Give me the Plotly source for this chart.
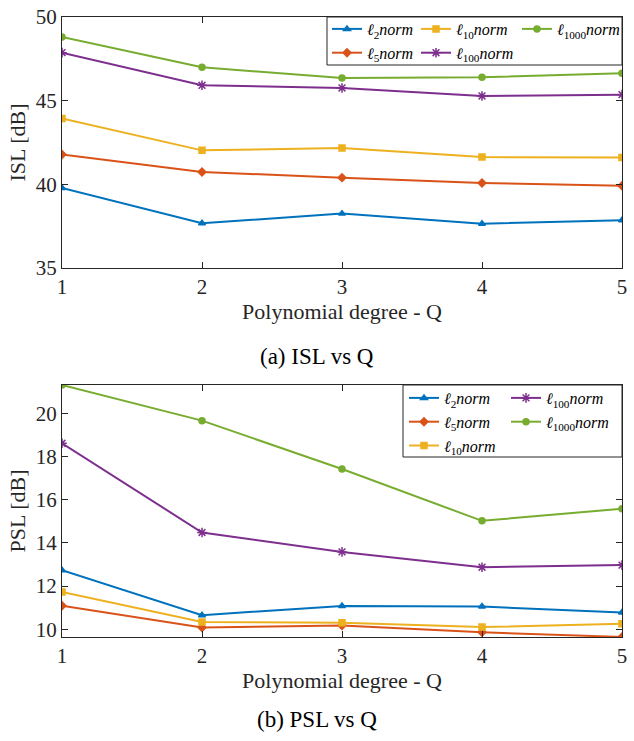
import plotly.graph_objects as go

# Polynomial degree Q
degrees = [1, 2, 3, 4, 5]

# ISL [dB] per norm
isl_l2 = [39.78, 37.67, 38.25, 37.65, 37.85]
isl_l5 = [41.78, 40.74, 40.40, 40.08, 39.92]
isl_l10 = [43.93, 42.03, 42.17, 41.63, 41.60]
isl_l100 = [47.87, 45.92, 45.76, 45.28, 45.36]
isl_l1000 = [48.80, 47.00, 46.35, 46.40, 46.64]

# PSL [dB] per norm
psl_l2 = [12.73, 10.65, 11.08, 11.05, 10.78]
psl_l5 = [11.09, 10.08, 10.17, 9.86, 9.64]
psl_l10 = [11.72, 10.33, 10.30, 10.10, 10.25]
psl_l100 = [18.61, 14.48, 13.58, 12.87, 12.97]
psl_l1000 = [21.31, 19.66, 17.42, 15.02, 15.58]

isl_yticks = [35, 40, 45, 50]
psl_yticks = [10, 12, 14, 16, 18, 20]

FONT = "Liberation Serif, Times New Roman, serif"
AXC = "#262626"
W, H = 634, 741


def lbl(k):
    return f"<i>ℓ</i><sub>{k}</sub><i>norm</i>"


def px(x):
    return x / W


def py(y):
    return 1 - y / H


# name, isl, psl, color, symbol, legend column (top), legend column (bottom)
series = [
    ("2", isl_l2, psl_l2, "#0072BD", "triangle-up", "legend", "legend4"),
    ("5", isl_l5, psl_l5, "#D95319", "diamond", "legend", "legend4"),
    ("10", isl_l10, psl_l10, "#EDB120", "square", "legend2", "legend4"),
    ("100", isl_l100, psl_l100, "#7E2F8E", "asterisk-open", "legend2", "legend5"),
    ("1000", isl_l1000, psl_l1000, "#77AC30", "circle", "legend3", "legend5"),
]

fig = go.Figure()
for k, isl, psl, col, sym, lg_top, lg_bot in series:
    msize = 8 if sym == "asterisk-open" else 6
    mk = dict(symbol=sym, size=msize, color=col, line=dict(color=col, width=1.5))
    fig.add_trace(go.Scatter(
        x=degrees, y=isl, name=lbl(k), mode="lines+markers",
        line=dict(color=col, width=2), marker=mk,
        xaxis="x", yaxis="y", legend=lg_top,
    ))
    fig.add_trace(go.Scatter(
        x=degrees, y=psl, name=lbl(k), mode="lines+markers",
        line=dict(color=col, width=2), marker=mk,
        xaxis="x2", yaxis="y2", legend=lg_bot,
    ))

x0, x1 = px(62), px(622)

axis_common = dict(
    showline=True, linecolor=AXC, linewidth=1, mirror="ticks",
    ticks="inside", ticklen=6, tickcolor=AXC, tickwidth=1,
    showgrid=False, zeroline=False, automargin=False,
    tickfont=dict(family=FONT, size=21, color=AXC),
)
xtitle = dict(text="Polynomial degree - Q", font=dict(family=FONT, size=22, color=AXC), standoff=4)
LEG_SIZE = 16


def legend_col(xleft, ytop):
    return dict(
        orientation="v", x=px(xleft), xanchor="left", y=py(ytop), yanchor="top",
        bgcolor="rgba(0,0,0,0)", borderwidth=0,
        font=dict(family=FONT, size=LEG_SIZE, color="black"),
        itemwidth=30, traceorder="normal", tracegroupgap=0,
    )


fig.update_layout(
    template="none",
    width=W, height=H,
    margin=dict(l=0, r=0, t=0, b=0, autoexpand=False),
    paper_bgcolor="white", plot_bgcolor="white",
    font=dict(family=FONT, color=AXC),
    showlegend=True,
    xaxis=dict(domain=[x0, x1], range=[1, 5], tickvals=degrees, anchor="y",
               title=xtitle, ticklabelstandoff=0, **axis_common),
    yaxis=dict(domain=[py(268), py(17)], range=[35, 50], tickvals=isl_yticks, anchor="x",
               title=dict(text="ISL [dB]", font=dict(family=FONT, size=22, color=AXC), standoff=4),
               ticklabelstandoff=0, **axis_common),
    xaxis2=dict(domain=[x0, x1], range=[1, 5], tickvals=degrees, anchor="y2",
                title=xtitle, ticklabelstandoff=0, **axis_common),
    yaxis2=dict(domain=[py(637), py(385)], range=[min(psl_l5), max(psl_l1000)],
                tickvals=psl_yticks, anchor="x2",
                title=dict(text="PSL [dB]", font=dict(family=FONT, size=22, color=AXC), standoff=4),
                ticklabelstandoff=0, **axis_common),
    legend=legend_col(327, 12),
    legend2=legend_col(416, 12),
    legend3=legend_col(517, 12),
    legend4=legend_col(404, 381),
    legend5=legend_col(506, 381),
    shapes=[
        dict(type="rect", xref="paper", yref="paper", layer="above",
             x0=px(327), x1=px(622), y0=py(65), y1=py(17),
             fillcolor="white", line=dict(color=AXC, width=1)),
        dict(type="rect", xref="paper", yref="paper", layer="above",
             x0=px(403), x1=px(622), y0=py(457), y1=py(385),
             fillcolor="white", line=dict(color=AXC, width=1)),
    ],
    annotations=[
        dict(text="(a) ISL vs Q", x=0.5, y=py(356), xref="paper", yref="paper",
             xanchor="center", yanchor="middle",
             showarrow=False, font=dict(family=FONT, size=23, color="black")),
        dict(text="(b) PSL vs Q", x=0.5, y=py(719), xref="paper", yref="paper",
             xanchor="center", yanchor="middle",
             showarrow=False, font=dict(family=FONT, size=23, color="black")),
    ],
)

fig.write_html("out.html")
